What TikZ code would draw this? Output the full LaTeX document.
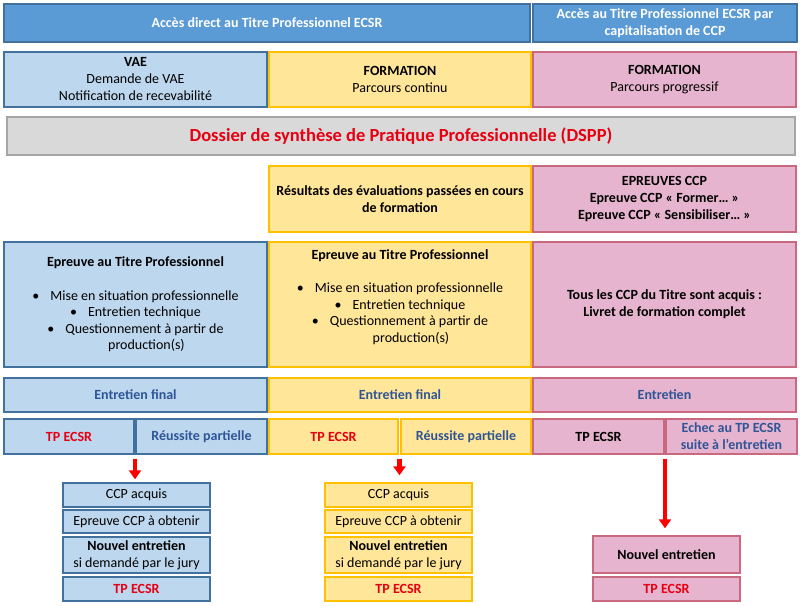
\documentclass[tikz,border=0pt]{standalone}
\usepackage{fontspec}
\setmainfont{Carlito}
\usetikzlibrary{arrows.meta,calc}
\definecolor{hdrfill}{HTML}{5B9BD5}
\definecolor{hdrline}{HTML}{41719C}
\definecolor{bfill}{HTML}{BDD7EE}
\definecolor{bline}{HTML}{41719C}
\definecolor{yfill}{HTML}{FFE699}
\definecolor{yline}{HTML}{FFC000}
\definecolor{pfill}{HTML}{E6B4CE}
\definecolor{pline}{HTML}{C9697F}
\definecolor{gfill}{HTML}{D9D9D9}
\definecolor{gline}{HTML}{A6A6A6}
\definecolor{tblue}{HTML}{2F5597}
\definecolor{tred}{HTML}{E60012}
\tikzset{
  base/.style={draw, line width=1.4pt, inner sep=1pt, align=center, font=\fontsize{14}{17}\selectfont},
  bf/.style={font=\fontsize{14}{17}\selectfont\bfseries},
  hdr/.style={base, fill=hdrfill, draw=hdrline, text=white, bf},
  bbox/.style={base, fill=bfill, draw=bline},
  ybox/.style={base, fill=yfill, draw=yline},
  pbox/.style={base, fill=pfill, draw=pline},
  gbox/.style={base, fill=gfill, draw=gline},
  redarrow/.style={draw=red, line width=4.5pt, -{Triangle[width=12pt,length=9pt]}},
  sz/.style 2 args={minimum width=#1pt, minimum height=#2pt},
}
\newcommand\bul{\textbullet\hspace{11pt}}
\begin{document}
\begin{tikzpicture}[x=1pt,y=-1pt]
\useasboundingbox (0,0) rectangle (800,605);
% headers
\node[hdr, sz={526}{38}] (h1) at (267,23) {Accès direct au Titre Professionnel ECSR};
\node[hdr, sz={264}{38}] (h2) at (665,23) {Accès au Titre Professionnel ECSR par\\capitalisation de CCP};
% row 2
\node[bbox, sz={263}{55}] (vae) at (135.5,79.5) {\textbf{VAE}\\Demande de VAE\\Notification de recevabilité};
\node[ybox, sz={262}{55}] (f1) at (400,79.5) {\textbf{FORMATION}\\Parcours continu};
\node[pbox, sz={263}{55}] (f2) at (664.5,79.5) {\textbf{FORMATION}\\Parcours progressif};
% DSPP
\node[gbox, sz={788}{38}, text=tred, font=\fontsize{18.5}{22}\selectfont\bfseries] (dspp) at (401,136) {Dossier de synthèse de Pratique Professionnelle (DSPP)};
% row 4
\node[ybox, sz={262}{66}, bf] (res) at (400,199) {Résultats des évaluations passées en cours\\de formation};
\node[pbox, sz={263}{66}, bf] (ccp) at (664.5,199) {EPREUVES CCP\\Epreuve CCP « Former… »\\Epreuve CCP « Sensibiliser… »};
% row 5
\node[bbox, sz={263}{125}, font=\fontsize{14}{16.5}\selectfont] (ep1) at (135.5,304.5) {\textbf{Epreuve au Titre Professionnel}\\[17pt]\bul Mise en situation professionnelle\\\bul Entretien technique\\\bul Questionnement à partir de\\\hspace{22pt}production(s)};
\node[ybox, sz={262}{125}, font=\fontsize{14}{16.5}\selectfont] (ep2) at (400,304.5) {\textbf{Epreuve au Titre Professionnel}\\[17pt]\bul Mise en situation professionnelle\\\bul Entretien technique\\\bul Questionnement à partir de\\\hspace{22pt}production(s)\\[1pt]\mbox{}};
\node[pbox, sz={263}{125}, bf] (ep3) at (664.5,304.5) {Tous les CCP du Titre sont acquis :\\Livret de formation complet};
% row 6
\node[bbox, sz={263}{34}, text=tblue, bf] (ef1) at (135.5,395) {Entretien final};
\node[ybox, sz={262}{34}, text=tblue, bf] (ef2) at (400,395) {Entretien final};
\node[pbox, sz={263}{34}, text=tblue, bf] (ef3) at (664.5,395) {Entretien};
% row 7
\node[bbox, sz={130}{35}, text=tred, bf] (tp1) at (69,436.5) {TP ECSR};
\node[bbox, sz={131}{35}, text=tblue, bf] (rp1) at (201.5,436.5) {Réussite partielle};
\node[ybox, sz={129}{35}, text=tred, bf] (tp2) at (333.5,436.5) {TP ECSR};
\node[ybox, sz={130}{35}, text=tblue, bf] (rp2) at (466,436.5) {Réussite partielle};
\node[pbox, sz={131}{35}, bf] (tp3) at (598.5,436.5) {TP ECSR};
\node[pbox, sz={131}{35}, text=tblue, bf] (ec3) at (731.5,436.5) {Echec au TP ECSR\\suite à l’entretien};
% lower blue
\node[bbox, sz={147}{24}] (ca1) at (136.5,495) {CCP acquis};
\node[bbox, sz={147}{23}] (eo1) at (136.5,521.5) {Epreuve CCP à obtenir};
\node[bbox, sz={147}{36}] (ne1) at (136.5,555) {\textbf{Nouvel entretien}\\si demandé par le jury};
\node[bbox, sz={147}{24}, text=tred, bf] (tt1) at (136.5,589) {TP ECSR};
% lower yellow
\node[ybox, sz={147}{24}] (ca2) at (398.5,495) {CCP acquis};
\node[ybox, sz={147}{23}] (eo2) at (398.5,521.5) {Epreuve CCP à obtenir};
\node[ybox, sz={147}{36}] (ne2) at (398.5,555) {\textbf{Nouvel entretien}\\si demandé par le jury};
\node[ybox, sz={147}{24}, text=tred, bf] (tt2) at (398.5,589) {TP ECSR};
% lower pink
\node[pbox, sz={147}{37}, bf] (ne3) at (666.5,554.5) {Nouvel entretien};
\node[pbox, sz={147}{24}, text=tred, bf] (tt3) at (666.5,589) {TP ECSR};
% arrows
\coordinate (a1) at ($(tp1.south east)!0.5!(rp1.south west)$);
\coordinate (a2) at ($(tp2.south east)!0.5!(rp2.south west)$);
\coordinate (a3) at ($(tp3.south east)!0.5!(ec3.south west)$);
\draw[redarrow, shorten <=4pt, shorten >=3pt] (a1) -- (a1 |- ca1.north);
\draw[redarrow, shorten <=4pt, shorten >=7pt] (a2) -- (a2 |- ca2.north);
\draw[redarrow, shorten <=4pt, shorten >=7pt] (a3) -- (a3 |- ne3.north);
\end{tikzpicture}
\end{document}
